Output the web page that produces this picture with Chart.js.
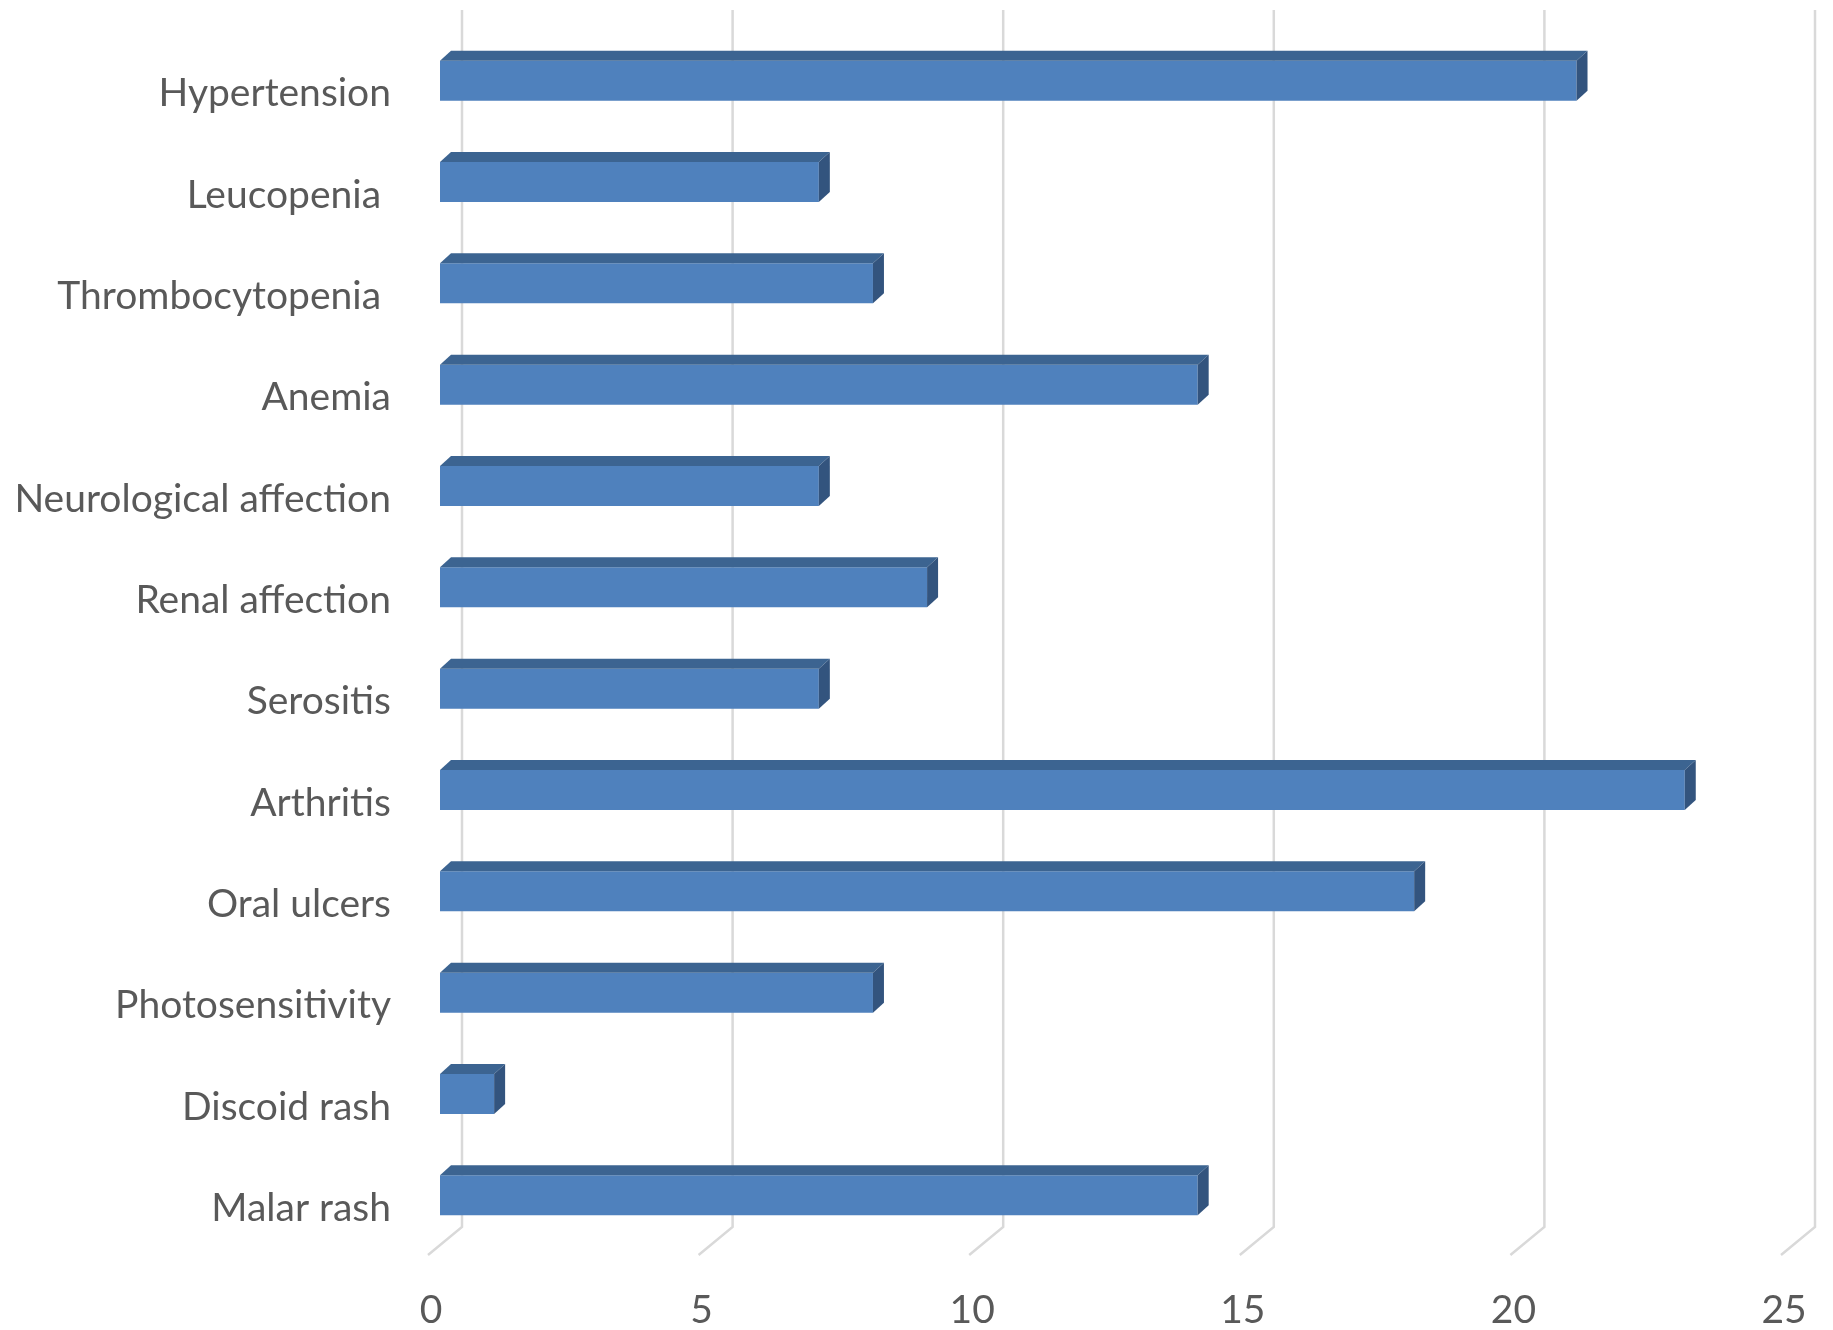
<!DOCTYPE html>
<html>
<head>
<meta charset="utf-8">
<script src="https://cdn.jsdelivr.net/npm/chart.js@4.4.0/dist/chart.umd.min.js"></script>
<style>
  html, body { margin: 0; padding: 0; background: #fff; }
  #wrap { width: 1833px; height: 1330px; }
</style>
</head>
<body>
<div id="wrap"><canvas id="barChart"></canvas></div>
<script>
// data, top to bottom as in the picture
var categories = ["Hypertension", "Leucopenia ", "Thrombocytopenia ", "Anemia", "Neurological affection",
                  "Renal affection", "Serositis", "Arthritis", "Oral ulcers", "Photosensitivity",
                  "Discoid rash", "Malar rash"];
var patients = [21, 7, 8, 14, 7, 9, 7, 23, 18, 8, 1, 14];
var xTicks = [0, 5, 10, 15, 20, 25];

var depthX = 11, depthY = 10; // fake 3d offset of the boxes

var box3d = {
    id: 'box3d',
    beforeDatasetsDraw: function(chart) {
        var ctx = chart.ctx, area = chart.chartArea, xs = chart.scales.x;
        ctx.save();
        ctx.strokeStyle = '#D9D9D9';
        ctx.lineWidth = 2.5;
        xTicks.forEach(function(v) {
            var xf = xs.getPixelForValue(v);
            ctx.beginPath();
            ctx.moveTo(xf + 22, area.top - 20);   // back wall
            ctx.lineTo(xf + 22, area.bottom - 19);
            ctx.lineTo(xf - 12, area.bottom + 9);  // floor
            ctx.stroke();
        });
        ctx.restore();
    },
    afterDatasetsDraw: function(chart) {
        var ctx = chart.ctx;
        ctx.save();
        chart.getDatasetMeta(0).data.forEach(function(bar) {
            var p = bar.getProps(['x', 'y', 'base', 'height'], true);
            var top = p.y - p.height / 2, bottom = p.y + p.height / 2;
            // top face
            ctx.fillStyle = '#3C6491';
            ctx.beginPath();
            ctx.moveTo(p.base, top);
            ctx.lineTo(p.base + depthX, top - depthY);
            ctx.lineTo(p.x + depthX, top - depthY);
            ctx.lineTo(p.x, top);
            ctx.closePath();
            ctx.fill();
            // right face
            ctx.fillStyle = '#33547E';
            ctx.beginPath();
            ctx.moveTo(p.x, top);
            ctx.lineTo(p.x + depthX, top - depthY);
            ctx.lineTo(p.x + depthX, bottom - depthY);
            ctx.lineTo(p.x, bottom);
            ctx.closePath();
            ctx.fill();
        });
        ctx.restore();
    }
};

var chart = new Chart(document.getElementById("barChart"), {
    type: 'bar',
    data: {
        labels: categories,
        datasets: [{
            data: patients,
            backgroundColor: '#4F81BD',
            borderWidth: 0,
            categoryPercentage: 1,
            barPercentage: 0.395
        }]
    },
    options: {
        indexAxis: 'y',
        responsive: true,
        maintainAspectRatio: false,
        animation: false,
        layout: { padding: { top: 30, right: 40, left: 0, bottom: 0 } },
        plugins: { legend: { display: false }, tooltip: { enabled: false } },
        scales: {
            x: {
                min: 0,
                max: 25,
                grid: { display: false },
                border: { display: false },
                ticks: {
                    stepSize: 5,
                    color: '#595959',
                    font: { family: 'Lato', size: 39 },
                    padding: 33,
                    labelOffset: -9
                },
                afterFit: function(scale) {
                    scale.height = 84;
                    scale.paddingLeft = 0;
                    scale.paddingRight = 0;
                }
            },
            y: {
                grid: { display: false },
                border: { display: false },
                ticks: {
                    color: '#595959',
                    font: { family: 'Lato', size: 39 },
                    padding: 41,
                    labelOffset: 13
                },
                afterFit: function(scale) {
                    scale.width = 440;
                    scale.paddingTop = 0;
                    scale.paddingBottom = 0;
                }
            }
        }
    },
    plugins: [box3d]
});
</script>
</body>
</html>
